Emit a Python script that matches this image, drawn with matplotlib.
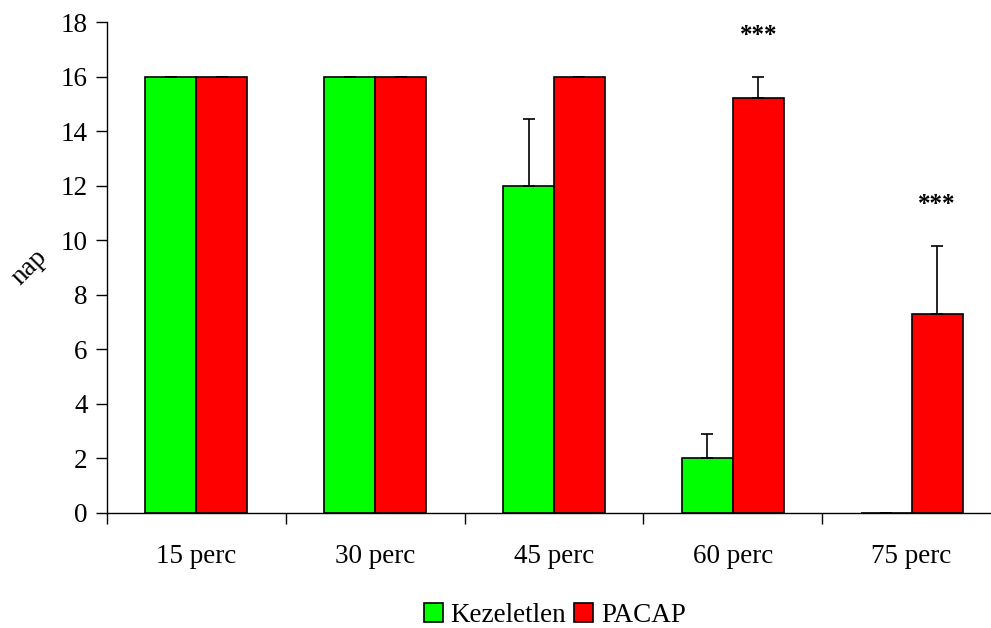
import numpy as np
import matplotlib.pyplot as plt

# Data
categories = ['15 perc', '30 perc', '45 perc', '60 perc', '75 perc']
kezeletlen = [16, 16, 12, 2, 0]
kezeletlen_err = [0, 0, 2.45, 0.9, 0]
pacap = [16, 16, 16, 15.2, 7.3]
pacap_err = [0, 0, 0, 0.8, 2.5]
stars = ['', '', '', '***', '***']

def makeGraph():
	plt.rcParams['font.family'] = ['Liberation Serif', 'DejaVu Serif']
	fig = plt.figure(figsize=(9.91, 6.28), dpi=100)
	ax = fig.add_axes([107/991, 1 - 513/628, 894/991, 491/628])

	ind = np.arange(len(categories))
	width = 0.285
	ax.bar(ind - width/2, kezeletlen, width, color='#00ff00', edgecolor='black', linewidth=1.2,
		yerr=[np.zeros(len(ind)), kezeletlen_err], capsize=4.5, error_kw=dict(elinewidth=1.2, capthick=1.2),
		label='Kezeletlen')
	ax.bar(ind + width/2, pacap, width, color='#ff0000', edgecolor='black', linewidth=1.2,
		yerr=[np.zeros(len(ind)), pacap_err], capsize=4.5, error_kw=dict(elinewidth=1.2, capthick=1.2),
		label='PACAP')

	# significance marks above PACAP bars
	for i in range(len(ind)):
		if stars[i]:
			ax.text(ind[i] + width/2, pacap[i] + pacap_err[i] + 1.5, stars[i],
				ha='center', va='center', fontsize=18, fontweight='bold')

	ax.set_xlim(-0.5, len(ind) - 0.5)
	ax.set_ylim(0, 18)
	ax.set_yticks(np.arange(0, 19, 2))
	ax.set_xticks(ind)
	ax.set_xticklabels(categories)
	ax.set_xticks(np.arange(-0.5, len(ind), 1), minor=True)
	ax.tick_params(axis='x', which='major', length=0, pad=22, labelsize=19.5)
	ax.tick_params(axis='x', which='minor', length=8, width=1)
	ax.tick_params(axis='y', length=8, width=1, labelsize=19.5, pad=6)
	ax.spines['top'].set_visible(False)
	ax.spines['right'].set_visible(False)
	ax.spines['left'].set_linewidth(1)
	ax.spines['bottom'].set_linewidth(1)

	# y label drawn slanted like the original
	fig.text(29/991, 1 - 267/628, 'nap', rotation=45, ha='center', va='center', fontsize=19.5)

	fig.legend(loc='center', bbox_to_anchor=(555/991, 1 - 615/628), ncol=2, frameon=False,
		fontsize=19.5, handlelength=0.7, handleheight=0.7, handletextpad=0.3, columnspacing=0.3)
	return fig

def main():
	fig = makeGraph()
	fig.savefig('out.png', dpi=100)

if __name__ == '__main__':
	main()
